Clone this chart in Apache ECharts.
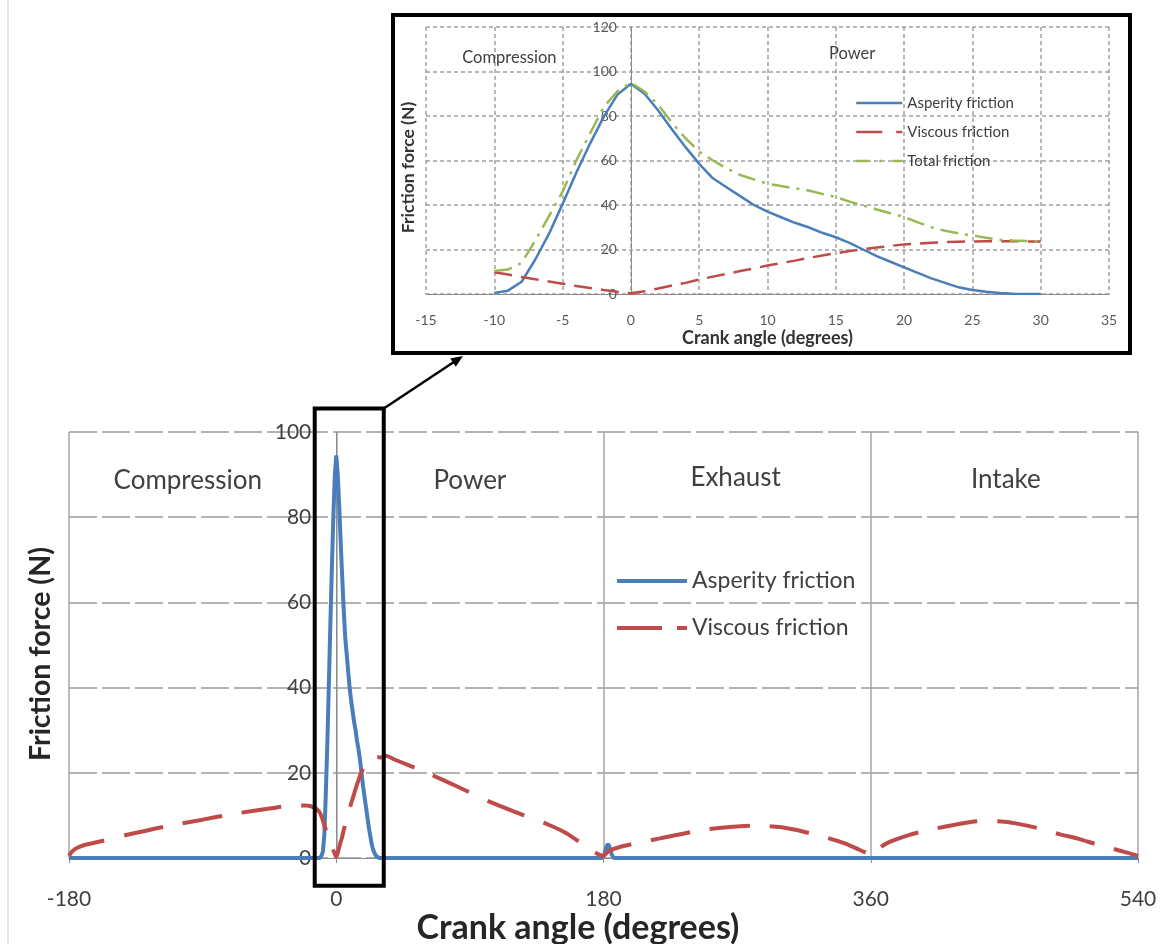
<!DOCTYPE html>
<html>
<head>
<meta charset="utf-8">
<script src="https://cdn.jsdelivr.net/npm/echarts@6/dist/echarts.min.js"></script>
<style>
html,body{margin:0;padding:0;background:#ffffff;}
#c{width:1161px;height:944px;}
</style>
</head>
<body>
<div id="c"></div>
<script>
// ---- Data ----
// Zoomed window (inset) : crank angle -10..30 deg
var insetAngles = [-10,-9,-8,-7,-6,-5,-4,-3,-2,-1,0,1,2,3,4,5,6,7,8,9,10,11,12,13,14,15,16,17,18,19,20,21,22,23,24,25,26,27,28,29,30];
var insetAsperity = [0.5,1.5,5.5,15.5,27,40.5,54.5,67.5,79.5,89.5,94.5,90,82.5,74,66,58.5,52,48,44,40,37,34.5,32,30,27.5,25.5,23,20,17,14.5,12,9.5,7,5,3,1.8,1,0.4,0.1,0,0];
var insetViscous = [9.8,8.8,7.6,6.6,5.6,4.6,3.6,2.7,1.8,1,0.3,1.2,2.5,3.8,5,6.5,7.8,9,10.3,11.5,12.8,13.9,15,16.2,17.3,18.3,19.3,20.1,20.9,21.6,22.3,22.7,23,23.3,23.5,23.6,23.7,23.7,23.7,23.6,23.6];
var insetTotal = [10.3,11,14,24,35,46,60,72,84,91,95,91,85,77,70,64,60,56.5,53.5,51.5,49.6,48.5,47.5,46.5,45,43.6,41.5,39.8,38,36.3,34.6,32.2,30,28.4,27.2,26.3,25.3,24.4,24,23.8,23.6];

// Full cycle outside the zoomed window
var asperityLeftAngles = [-180,-11];
var asperityLeftValues = [0,0];
var asperityRightAngles = [31,179,180.5,182,183,184,185.5,187,540];
var asperityRightValues = [0,0,0.8,2.6,3.3,2.6,0.8,0,0];

var viscousLeftAngles = [-180,-178,-175,-170,-160,-140,-115,-90,-70,-45,-28,-20,-15,-12,-11];
var viscousLeftValues = [0.5,1.5,2.3,3.0,3.8,5.5,7.4,9.0,10.3,11.6,12.3,12.3,11.9,11.1,10.6];
var viscousRightAngles = [33,40,63,85,104,125,143,155,166,175,180,183,192,218,247,265,283,300,317,330,342,352,358,360,364,371,385,397,415,435,450,461,475,487,500,513,528,540];
var viscousRightValues = [24,23,19.7,16.2,13.1,10.2,7.8,5.8,3.2,1.2,0.5,1.5,2.7,4.6,6.6,7.3,7.6,7.2,6,4.8,3.5,2,1,0.5,1.8,3.5,5.3,6.4,7.7,8.7,8.5,7.9,6.8,5.6,4.5,3.1,1.7,0.5];

var mainXTicks = [-180, 540, 180];   // min, max, interval
var mainYTicks = [0, 100, 20];
var insetXTicks = [-15, 35, 5];
var insetYTicks = [0, 120, 20];

var phaseNames = ['Compression','Power','Exhaust','Intake'];
var seriesNames = ['Asperity friction','Viscous friction','Total friction'];

// ---- helpers ----
function pairs(xs, ys){ var o=[]; for(var i=0;i<xs.length;i++) o.push([xs[i], ys[i]]); return o; }
var mainAsperity = pairs(asperityLeftAngles, asperityLeftValues)
  .concat(pairs(insetAngles, insetAsperity))
  .concat(pairs(asperityRightAngles, asperityRightValues));
var mainViscous = pairs(viscousLeftAngles, viscousLeftValues)
  .concat(pairs(insetAngles, insetViscous))
  .concat(pairs(viscousRightAngles, viscousRightValues));

var FONT = 'Lato';
var BLUE = '#4a7ebb', RED = '#be4b48', GREEN = '#98b954';
var W = 1161, H = 944;
var mainGrid = {left:69, right:23, top:432, bottom:86};
var insetGrid = {left:426, right:52, top:27, bottom:650};
// y axes cross the x axis at angle 0
var mainYOffset = -(W - mainGrid.left - mainGrid.right) * (0 - mainXTicks[0]) / (mainXTicks[1] - mainXTicks[0]);
var insetYOffset = -(W - insetGrid.left - insetGrid.right) * (0 - insetXTicks[0]) / (insetXTicks[1] - insetXTicks[0]);

var hideSym = {color:'rgba(0,0,0,0)', borderWidth:0, opacity:0};

var chart = echarts.init(document.getElementById('c'), null, {renderer:'canvas'});

var option = {
  animation: false,
  backgroundColor: '#ffffff',
  textStyle: {fontFamily: FONT},
  grid: [
    {left:mainGrid.left, right:mainGrid.right, top:mainGrid.top, bottom:mainGrid.bottom, outerBoundsMode:'none'},
    {left:insetGrid.left, right:insetGrid.right, top:insetGrid.top, bottom:insetGrid.bottom, outerBoundsMode:'none'}
  ],
  xAxis: [
    {
      type:'value', gridIndex:0, min:mainXTicks[0], max:mainXTicks[1], interval:mainXTicks[2],
      axisLine:{show:true, onZero:false, lineStyle:{color:'#8c8c8c', width:1}},
      axisTick:{show:true, length:5, lineStyle:{color:'#8c8c8c'}},
      axisLabel:{margin:31, fontSize:21, color:'#404040', fontFamily:FONT},
      splitLine:{show:true, lineStyle:{color:'#a6a6a6', width:1.5}},
      name:'Crank angle (degrees)', nameLocation:'middle', nameGap:53,
      nameTextStyle:{fontSize:34, fontWeight:'bold', color:'#262626', fontFamily:FONT, padding:[0,51,0,0]}
    },
    {
      type:'value', gridIndex:1, min:insetXTicks[0], max:insetXTicks[1], interval:insetXTicks[2],
      axisLine:{show:true, onZero:false, lineStyle:{color:'#8c8c8c', width:1}},
      axisTick:{show:false},
      axisLabel:{margin:19, fontSize:14, color:'#595959', fontFamily:FONT},
      splitLine:{show:true, lineStyle:{color:'#a0a0a0', width:1.5, type:[4,3]}},
      name:'Crank angle (degrees)', nameLocation:'middle', nameGap:35,
      nameTextStyle:{fontSize:18, fontWeight:'bold', color:'#333333', fontFamily:FONT}
    }
  ],
  yAxis: [
    {
      type:'value', gridIndex:0, min:mainYTicks[0], max:mainYTicks[1], interval:mainYTicks[2],
      position:'left', offset:mainYOffset,
      axisLine:{show:true, onZero:false, lineStyle:{color:'#8c8c8c', width:1}},
      axisTick:{show:false},
      axisLabel:{margin:25, fontSize:21, color:'#404040', fontFamily:FONT},
      splitLine:{show:true, lineStyle:{color:'#b3b3b3', width:2, type:[28,5]}},
      name:'Friction force (N)', nameLocation:'middle', nameRotate:90, nameGap:281,
      nameTextStyle:{fontSize:28.5, fontWeight:'bold', color:'#262626', fontFamily:FONT, padding:[0,18,0,0]}
    },
    {
      type:'value', gridIndex:1, min:insetYTicks[0], max:insetYTicks[1], interval:insetYTicks[2],
      position:'left', offset:insetYOffset,
      axisLine:{show:true, onZero:false, lineStyle:{color:'#8c8c8c', width:1}},
      axisTick:{show:false},
      axisLabel:{margin:14, fontSize:14, color:'#595959', fontFamily:FONT},
      splitLine:{show:true, lineStyle:{color:'#a0a0a0', width:1.5, type:[4,3]}},
      name:'Friction force (N)', nameLocation:'middle', nameRotate:90, nameGap:214,
      nameTextStyle:{fontSize:17.5, fontWeight:'bold', color:'#333333', fontFamily:FONT, padding:[0,14,0,0]}
    }
  ],
  legend: [
    {
      left:615, top:568, orient:'vertical', padding:0, itemWidth:70, itemHeight:14, itemGap:21,
      textStyle:{fontSize:23, lineHeight:26, color:'#404040', fontFamily:FONT},
      data:[
        {name:seriesNames[0], itemStyle:hideSym, lineStyle:{color:BLUE, width:4, type:'solid'}},
        {name:seriesNames[1], itemStyle:hideSym, lineStyle:{color:RED, width:4, type:[45,15]}}
      ]
    },
    {
      left:855, top:94, orient:'vertical', padding:0, itemWidth:46, itemHeight:10, itemGap:11,
      textStyle:{fontSize:15, lineHeight:18, color:'#404040', fontFamily:FONT},
      data:[
        {name:seriesNames[0], itemStyle:hideSym, lineStyle:{color:BLUE, width:2.5, type:'solid'}},
        {name:seriesNames[1], itemStyle:hideSym, lineStyle:{color:RED, width:2.5, type:[26,14]}},
        {name:seriesNames[2], itemStyle:hideSym, lineStyle:{color:GREEN, width:2.5, type:[13,10,3,10]}}
      ]
    }
  ],
  series: [
    {name:seriesNames[0], type:'line', xAxisIndex:0, yAxisIndex:0, data:mainAsperity,
     symbol:'none', showSymbol:false, lineStyle:{color:BLUE, width:4}, itemStyle:{color:BLUE}, z:3},
    {name:seriesNames[1], type:'line', xAxisIndex:0, yAxisIndex:0, data:mainViscous, smooth:0.3,
     symbol:'none', showSymbol:false, lineStyle:{color:RED, width:4, type:[40,20]}, itemStyle:{color:RED}, z:4},
    {name:seriesNames[0], type:'line', xAxisIndex:1, yAxisIndex:1, data:pairs(insetAngles, insetAsperity),
     symbol:'none', showSymbol:false, lineStyle:{color:BLUE, width:2.5}, itemStyle:{color:BLUE}, z:3},
    {name:seriesNames[1], type:'line', xAxisIndex:1, yAxisIndex:1, data:pairs(insetAngles, insetViscous),
     symbol:'none', showSymbol:false, lineStyle:{color:RED, width:2.5, type:[18,9]}, itemStyle:{color:RED}, z:4},
    {name:seriesNames[2], type:'line', xAxisIndex:1, yAxisIndex:1, data:pairs(insetAngles, insetTotal),
     symbol:'none', showSymbol:false, lineStyle:{color:GREEN, width:2.5, type:[18,7,3,7]}, itemStyle:{color:GREEN}, z:5}
  ]
};
chart.setOption(option);

// ---- annotations placed through the axes ----
function px(g, x, y){ return chart.convertToPixel({gridIndex:g}, [x, y]); }
var mainPhasePos = [[-100, 88.5],[90, 88.5],[269, 89.3],[451, 88.9]];
var insetPhasePos = [[-8.9, 106],[16.2, 108]];
var g = [];
// faint page border line at left
g.push({type:'line', shape:{x1:8, y1:0, x2:8, y2:H}, style:{stroke:'#dcdcdc', lineWidth:1.5}, z:1});
for (var i=0;i<phaseNames.length;i++){
  var p = px(0, mainPhasePos[i][0], mainPhasePos[i][1]);
  g.push({type:'text', x:p[0], y:p[1], style:{text:phaseNames[i], font:'26px Lato', fill:'#404040', align:'center', verticalAlign:'middle'}, z:10});
}
for (var j=0;j<insetPhasePos.length;j++){
  var q = px(1, insetPhasePos[j][0], insetPhasePos[j][1]);
  g.push({type:'text', x:q[0], y:q[1], style:{text:phaseNames[j], font:'16.5px Lato', fill:'#404040', align:'center', verticalAlign:'middle'}, z:10});
}
// highlight window around TDC in main chart
var a = px(0, -14.5, 105.5), b = px(0, 32, -6.5);
g.push({type:'rect', shape:{x:a[0], y:a[1], width:b[0]-a[0], height:b[1]-a[1]},
        style:{fill:'none', stroke:'#000', lineWidth:4}, z:20});
// inset frame
g.push({type:'rect', shape:{x:393, y:15, width:737, height:338},
        style:{fill:'none', stroke:'#000', lineWidth:4}, z:20});
// arrow from highlight window to inset
var sx = b[0], sy = a[1], ex = 463, ey = 356;
var dx = ex - sx, dy = ey - sy, L = Math.sqrt(dx*dx+dy*dy), ux = dx/L, uy = dy/L;
var hl = 12, hw = 5;
g.push({type:'line', shape:{x1:sx, y1:sy, x2:ex-ux*hl*0.8, y2:ey-uy*hl*0.8}, style:{stroke:'#000', lineWidth:2.5}, z:20});
g.push({type:'polygon', shape:{points:[[ex,ey],[ex-ux*hl-uy*hw, ey-uy*hl+ux*hw],[ex-ux*hl+uy*hw, ey-uy*hl-ux*hw]]},
        style:{fill:'#000'}, z:20});
chart.setOption({graphic:g});
</script>
</body>
</html>
